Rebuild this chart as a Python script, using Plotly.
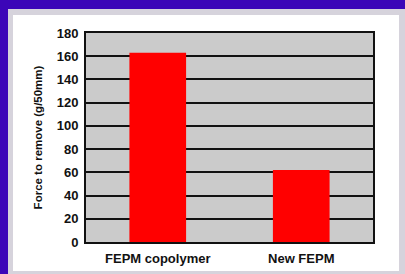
import plotly.graph_objects as go

categories = ["FEPM copolymer", "New FEPM"]
force_values = [163, 62]
y_ticks = [0, 20, 40, 60, 80, 100, 120, 140, 160, 180]

W, H = 405, 274
L, R, T, B = 86, 32, 33, 32
pw, ph = W - L - R, H - T - B

def px(x):
    return (x - L) / pw

def py(y):
    return (H - B - y) / ph

fig = go.Figure(go.Bar(x=categories, y=force_values, marker=dict(color="#ff0000", line=dict(width=0)),
                       hoverinfo="skip"))

shapes = [
    dict(type="rect", xref="paper", yref="paper", x0=px(8), x1=px(405), y0=py(9), y1=py(274),
         fillcolor="#d6d3dc", line=dict(width=0), layer="below"),
    dict(type="rect", xref="paper", yref="paper", x0=px(13), x1=px(399), y0=py(15), y1=py(271),
         fillcolor="#ffffff", line=dict(width=0), layer="below"),
    dict(type="rect", xref="paper", yref="paper", x0=0, x1=1, y0=0, y1=1,
         fillcolor="#cbcbcb", line=dict(width=0), layer="below"),
]

fig.update_layout(
    width=W, height=H,
    margin=dict(l=L, r=R, t=T, b=B, pad=0, autoexpand=False),
    paper_bgcolor="#3c06b8",
    plot_bgcolor="rgba(0,0,0,0)",
    shapes=shapes,
    bargap=0.605,
    showlegend=False,
    font=dict(family="Liberation Sans, Arial, sans-serif", color="#111111"),
)
fig.update_xaxes(
    automargin=False,
    showline=True, linecolor="#111111", linewidth=2, mirror=True,
    ticks="outside", ticklen=3, tickcolor="rgba(0,0,0,0)",
    tickfont=dict(size=13, family="Liberation Sans, Arial, sans-serif", weight="bold"),
    showgrid=False,
)
fig.update_yaxes(
    automargin=False,
    range=[0, 180], tickvals=y_ticks,
    showline=True, linecolor="#111111", linewidth=2, mirror=True,
    showgrid=True, gridcolor="#111111", gridwidth=1.6,
    zeroline=False,
    ticks="outside", ticklen=3, tickcolor="rgba(0,0,0,0)",
    tickfont=dict(size=13, family="Liberation Sans, Arial, sans-serif", weight="bold"),
    title=dict(text="Force to remove (g/50mm)", standoff=12,
               font=dict(size=11.5, family="Liberation Sans, Arial, sans-serif", weight="bold")),
)

fig.write_html("out.html", config={"displayModeBar": False},
               post_script="document.body.style.margin='0';document.body.style.padding='0';")
